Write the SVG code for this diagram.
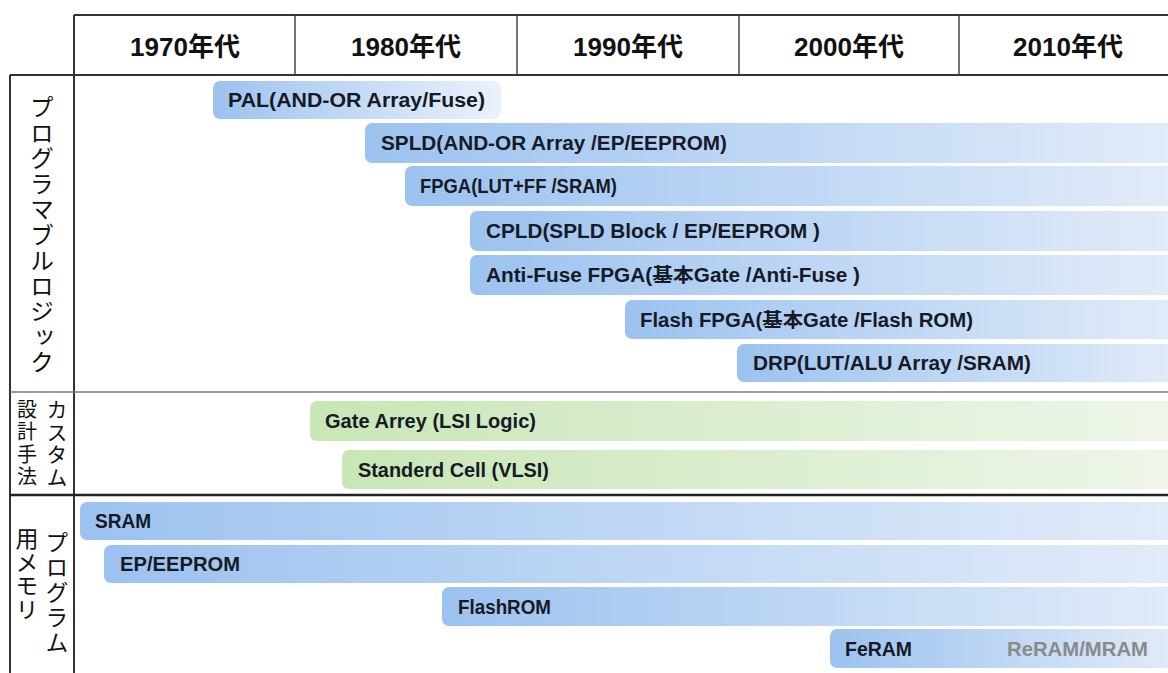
<svg xmlns="http://www.w3.org/2000/svg" width="1168" height="673" viewBox="0 0 1168 673">
<defs>
<linearGradient id="gBlue" x1="0" y1="0" x2="1" y2="0">
<stop offset="0" stop-color="#9cc2ef"/>
<stop offset="1" stop-color="#e2ecf9"/>
</linearGradient>
<linearGradient id="gBlueShort" x1="0" y1="0" x2="1" y2="0">
<stop offset="0" stop-color="#9cc2ef"/>
<stop offset="1" stop-color="#ebf2fc"/>
</linearGradient>
<linearGradient id="gGreen" x1="0" y1="0" x2="1" y2="0">
<stop offset="0" stop-color="#c8e6b6"/>
<stop offset="1" stop-color="#eef6e9"/>
</linearGradient>
<style>
.hdr{font-family:"Liberation Sans","Noto Sans CJK JP",sans-serif;font-weight:bold;font-size:26px;fill:#111;text-anchor:middle}
.lbl{font-family:"Liberation Sans","Noto Sans CJK JP",sans-serif;font-weight:bold;font-size:19.5px;fill:#161a26}
.vt{font-family:"Noto Sans CJK JP",sans-serif;fill:#111;writing-mode:vertical-rl}
.blue{fill:url(#gBlue)}
.blueS{fill:url(#gBlueShort)}
.green{fill:url(#gGreen)}
.ln{stroke:#333;stroke-width:2;fill:none}
.lnT{stroke:#444;stroke-width:1.5;fill:none}
.lnG{stroke:#777;stroke-width:1.5;fill:none}
.lnD{stroke:#222;stroke-width:2.5;fill:none}
</style>
</defs>
<rect width="1168" height="673" fill="#fff"/>

<g id="grid">
<line class="ln" x1="74" y1="15" x2="1168" y2="15"/>
<line class="ln" x1="10" y1="75" x2="1168" y2="75"/>
<line class="ln" x1="74" y1="15" x2="74" y2="673"/>
<line class="ln" x1="10" y1="75" x2="10" y2="673"/>
<line class="lnT" x1="295" y1="15" x2="295" y2="75"/>
<line class="lnT" x1="517" y1="15" x2="517" y2="75"/>
<line class="lnT" x1="739" y1="15" x2="739" y2="75"/>
<line class="lnT" x1="959" y1="15" x2="959" y2="75"/>
<line class="lnG" x1="10" y1="392" x2="1168" y2="392"/>
<line class="lnD" x1="10" y1="495" x2="1168" y2="495"/>
</g>

<g id="header">
<text class="hdr" x="185" y="56">1970年代</text>
<text class="hdr" x="406" y="56">1980年代</text>
<text class="hdr" x="628" y="56">1990年代</text>
<text class="hdr" x="849" y="56">2000年代</text>
<text class="hdr" x="1068" y="56">2010年代</text>
</g>

<g id="section-labels">
<text class="vt" x="42" y="95" font-size="24" letter-spacing="1.5">プログラマブルロジック</text>
<text class="vt" x="57" y="399" font-size="21" letter-spacing="1.5">カスタム</text>
<text class="vt" x="27" y="399" font-size="20" letter-spacing="2.5">設計手法</text>
<text class="vt" x="57" y="531" font-size="23" letter-spacing="2">プログラム</text>
<text class="vt" x="27" y="527" font-size="23" letter-spacing="0.5">用メモリ</text>
</g>

<g id="pal">
<rect class="blueS" x="213" y="81" width="288" height="38" rx="7"/>
<text class="lbl" x="228" y="106.5" textLength="257" lengthAdjust="spacingAndGlyphs">PAL(AND-OR Array/Fuse)</text>
</g>
<g id="spld">
<rect class="blue" x="365" y="123" width="815" height="40" rx="7"/>
<text class="lbl" x="381" y="150" textLength="346" lengthAdjust="spacingAndGlyphs">SPLD(AND-OR Array /EP/EEPROM)</text>
</g>
<g id="fpga">
<rect class="blue" x="405" y="166" width="775" height="40" rx="7"/>
<text class="lbl" x="420" y="193" textLength="197" lengthAdjust="spacingAndGlyphs">FPGA(LUT+FF /SRAM)</text>
</g>
<g id="cpld">
<rect class="blue" x="470" y="211" width="710" height="40" rx="7"/>
<text class="lbl" x="486" y="238" textLength="334" lengthAdjust="spacingAndGlyphs">CPLD(SPLD Block / EP/EEPROM )</text>
</g>
<g id="antifuse">
<rect class="blue" x="470" y="255" width="710" height="40" rx="7"/>
<text class="lbl" x="486" y="282" textLength="374" lengthAdjust="spacingAndGlyphs">Anti-Fuse FPGA(基本Gate /Anti-Fuse )</text>
</g>
<g id="flashfpga">
<rect class="blue" x="625" y="300" width="555" height="39" rx="7"/>
<text class="lbl" x="640" y="326.5" textLength="333" lengthAdjust="spacingAndGlyphs">Flash FPGA(基本Gate /Flash ROM)</text>
</g>
<g id="drp">
<rect class="blue" x="737" y="344" width="443" height="38" rx="7"/>
<text class="lbl" x="753" y="370" textLength="278" lengthAdjust="spacingAndGlyphs">DRP(LUT/ALU Array /SRAM)</text>
</g>

<g id="gatearray">
<rect class="green" x="310" y="401" width="870" height="40" rx="7"/>
<text class="lbl" x="325" y="428" textLength="211" lengthAdjust="spacingAndGlyphs">Gate Arrey (LSI Logic)</text>
</g>
<g id="stdcell">
<rect class="green" x="342" y="450" width="838" height="39" rx="7"/>
<text class="lbl" x="358" y="476.5" textLength="191" lengthAdjust="spacingAndGlyphs">Standerd Cell (VLSI)</text>
</g>

<g id="sram">
<rect class="blue" x="80" y="502" width="1100" height="38" rx="7"/>
<text class="lbl" x="95" y="528" textLength="56" lengthAdjust="spacingAndGlyphs">SRAM</text>
</g>
<g id="eeprom">
<rect class="blue" x="104" y="545" width="1076" height="38" rx="7"/>
<text class="lbl" x="120" y="571" textLength="120" lengthAdjust="spacingAndGlyphs">EP/EEPROM</text>
</g>
<g id="flashrom">
<rect class="blue" x="442" y="587" width="738" height="39" rx="7"/>
<text class="lbl" x="458" y="613.5" textLength="93" lengthAdjust="spacingAndGlyphs">FlashROM</text>
</g>
<g id="feram">
<rect class="blue" x="830" y="629" width="350" height="39" rx="7"/>
<text class="lbl" x="845" y="655.5" textLength="67" lengthAdjust="spacingAndGlyphs">FeRAM</text>
<text class="lbl" x="1007" y="655.5" textLength="141" lengthAdjust="spacingAndGlyphs" style="fill:#8a8a8a">ReRAM/MRAM</text>
</g>
</svg>
